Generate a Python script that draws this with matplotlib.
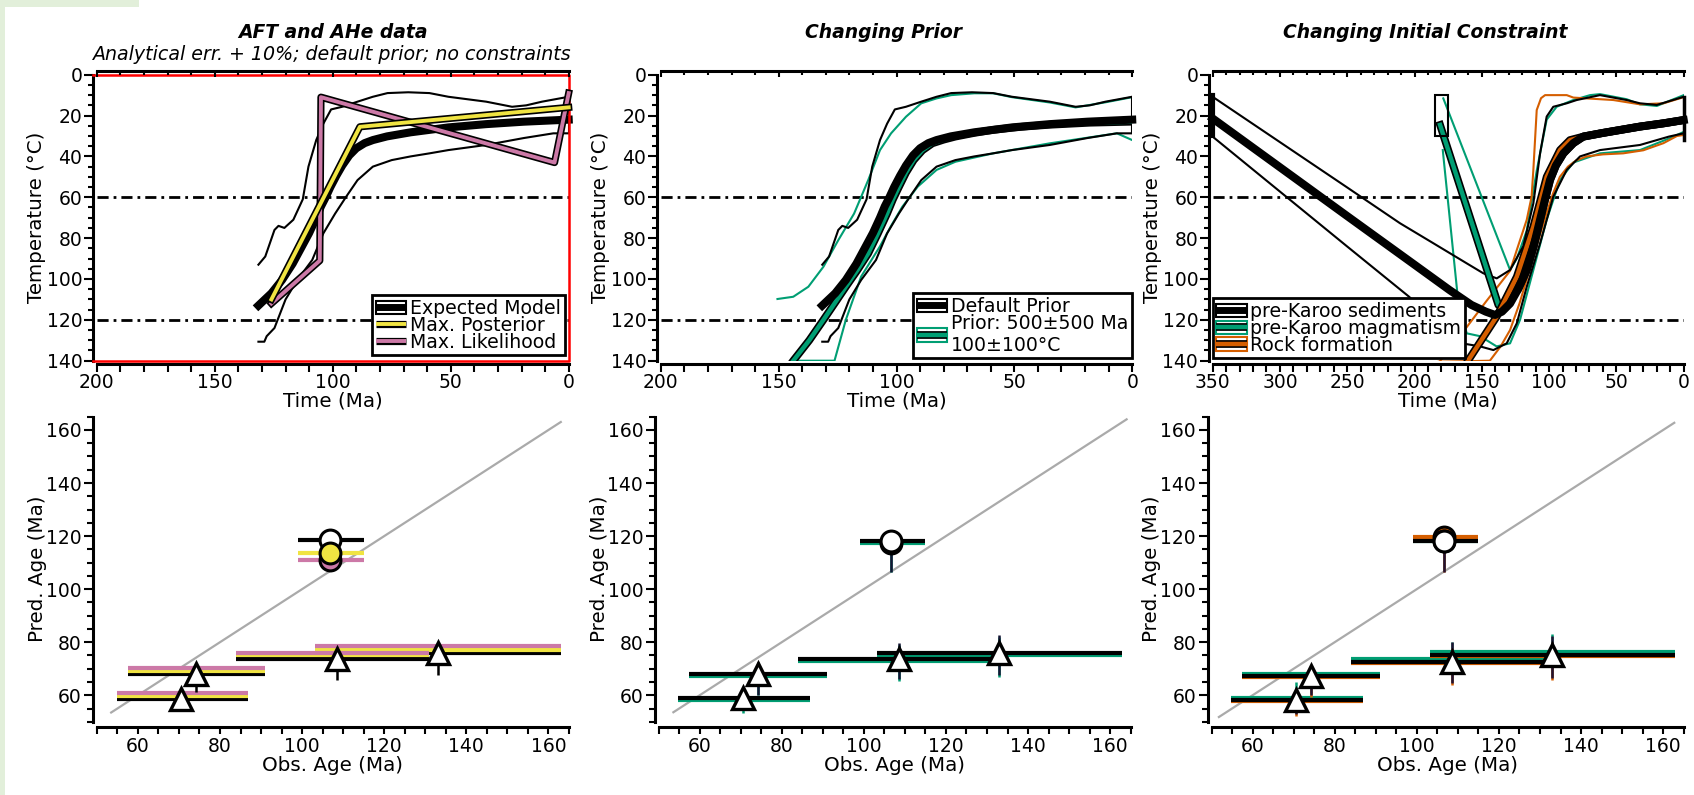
import matplotlib
matplotlib.use('Agg')
import matplotlib.pyplot as plt
import matplotlib.patheffects as pe
from matplotlib.patches import Rectangle
from matplotlib.lines import Line2D
from matplotlib.legend_handler import HandlerTuple
from matplotlib.ticker import MultipleLocator

plt.rcParams['font.family'] = ['DejaVu Sans']

YEL = '#f0e442'; PINK = '#cc79a7'; GRN = '#009e73'; ORG = '#d55e00'
GRAY = '#aaaaaa'; BG = '#e2efda'

# ---------------- time-temperature data (Time Ma, Temp degC) ----------------
# Expected model (default prior), panels 1 and 2
em_t = [131.5, 126, 121.5, 117, 113.5, 110, 107, 105, 103, 101, 98.5, 96, 93, 90, 86.5, 83, 77, 67, 51, 35, 19, 0]
em_T = [113, 107, 100.5, 92.5, 85, 77.5, 70, 64.5, 60, 55, 49.5, 44.5, 39.5, 36, 33.5, 32, 30.2, 28.2, 25.8, 24.2, 23, 22]
ub_t = [131.5, 128.6, 124.7, 123, 120.5, 116.7, 112.7, 110.3, 107, 104, 100.7, 96, 89.5, 83, 76.8, 68, 59, 51, 35, 24, 18, 11.3, 0]
ub_T = [93, 89, 76, 74, 75, 71, 61, 45, 32, 24, 17, 15.7, 13.2, 10.8, 9, 8.6, 9, 10.8, 13.2, 15.7, 15, 13.2, 10.8]
lb_t = [131.5, 129, 128, 124.7, 120, 115, 108.7, 104, 99, 94.3, 89.5, 83, 75, 67, 59, 51, 35, 19, 6.5, 0]
lb_T = [130.7, 130.7, 128, 124, 110, 100.5, 90.7, 77.7, 68, 59.7, 51.6, 45, 41.8, 40, 38.5, 36.9, 34.4, 31, 28.7, 28.7]
# Max. posterior / max. likelihood (panel 1)
mp_t = [126, 88.5, 0]
mp_T = [110, 25.5, 16]
ml_t = [126, 105.5, 105, 6, 0]
ml_T = [112, 91, 11, 43, 9]
# Prior 500+-500 Ma, 100+-100 C (panel 2)
g_t = [147, 143.8, 137, 131, 126, 121.5, 116.5, 112, 108, 104, 101.5, 99, 96, 92.7, 89, 84.8, 80, 75, 67, 59, 47, 35, 18, 0]
g_T = [145, 140, 130, 120, 111.5, 103.8, 95.5, 87.5, 78, 68, 61, 55, 48, 41.8, 37, 33.6, 31.8, 30.3, 28.5, 27, 25.5, 24.5, 23.5, 23]
gub_t = [150.5, 143.8, 137.4, 131, 124.7, 118, 112, 107, 102.3, 96, 89.5, 83, 76.8, 67, 59, 51, 35, 24, 11.3, 0]
gub_T = [109.8, 108.7, 103.8, 94, 81, 68, 51.6, 36.9, 28.7, 20.6, 14, 11.6, 10, 9.1, 9.1, 11, 13.6, 16, 13.5, 11]
glb_t = [143.8, 126.3, 121.5, 115, 107, 102.3, 97.5, 91, 83, 75, 59, 35, 6.5, 0]
glb_T = [140, 140, 120, 98.8, 84, 74, 64.6, 54.8, 46.6, 42.6, 38.5, 33.6, 28.7, 32]
# Panel 3: pre-Karoo sediments
s_t = [350, 300, 250, 200, 174, 157.7, 147, 140.2, 135, 129, 123, 116.6, 111.5, 106.7, 103, 99.3, 95, 89.4, 82, 74.6, 60, 32.5, 15, 0]
s_T = [21.4, 45.3, 69.2, 93.0, 105.4, 112.7, 116, 117.6, 116, 112, 105, 95.6, 84, 71, 61, 51.5, 44.5, 38.5, 33.5, 30.3, 28.5, 25.4, 23.8, 22.2]
su_t = [350, 300, 250, 210.8, 186, 161.3, 148.9, 138.9, 129, 119.2, 111.7, 106.7, 101.8, 96.9, 86.9, 79.5, 62.2, 42.4, 32.5, 20, 0]
su_T = [10.8, 33, 55.2, 72.7, 82.5, 92.3, 97.2, 99.7, 95.6, 84, 63, 38.5, 20.5, 15.7, 14, 12.4, 10, 12.4, 14, 14.8, 10.8]
sl_t = [350, 300, 250, 204, 180, 164.7, 151.3, 141.4, 131.5, 124, 116.6, 106.7, 96.9, 86.9, 77, 62.2, 32.5, 11, 0]
sl_T = [30.3, 57.2, 84.1, 108.7, 124, 131.5, 133, 134.8, 131.5, 121.7, 103.8, 82.5, 59.7, 46.6, 40, 36.9, 34.4, 30.3, 28.7]
# pre-Karoo magmatism
m_t = [181, 137.7, 134.5, 130, 125, 123, 116.6, 111.5, 106.7, 103, 99.3, 95, 89.4, 82, 74.6, 60, 32.5, 15, 0]
m_T = [24.6, 112.7, 114, 111.5, 106.5, 105, 95.6, 84, 71, 61, 51.5, 44.5, 38.5, 33.5, 30.3, 28.5, 25.4, 23.8, 22.2]
mu_t = [178.6, 129, 124, 116.6, 109.2, 101.8, 94.4, 82, 69.6, 62.2, 42.4, 32.5, 20, 0]
mu_T = [11.6, 95.6, 90, 76.3, 47, 22, 15.7, 12.4, 10, 9.5, 12, 14.5, 15.3, 10]
mlo_t = [179, 167.4, 161.2, 151.3, 139, 129, 121.6, 111.7, 101.8, 91.9, 82, 62.2, 32.5, 10, 0]
mlo_T = [36.9, 111.8, 126.6, 128, 133, 131.5, 120, 95.6, 71, 51.5, 43, 38.5, 36.9, 31, 28]
# Rock formation
r_t = [163, 161.2, 138.9, 124, 111.7, 101.8, 91.9, 84.5, 74.6, 60, 32.5, 15, 0]
r_T = [143, 141, 118.4, 98.9, 74.4, 50, 36.9, 32, 30.3, 28.5, 25.4, 23.8, 22.2]
ru_t = [182, 164.7, 146.8, 129, 124, 116.6, 113, 111.7, 109.2, 106, 103, 86.9, 82, 72, 52.3, 32.5, 15, 0]
ru_T = [141, 126.6, 111, 96, 85.8, 71, 59.7, 46.6, 17.3, 11.5, 10, 10, 11.2, 11.6, 12.4, 14.5, 14, 11]
rl_t = [182, 144, 136, 129, 122, 117, 112, 107, 102, 97, 92, 86, 80, 72, 60, 45, 30, 15, 5, 0]
rl_T = [140.5, 140, 133, 125, 112, 101, 90, 79, 68, 58, 50, 45, 42, 40, 39, 38.5, 37, 33.5, 30, 29.5]
# initial constraint box (panel 3)
box_t = [185, 175]
box_T = [10, 30]

# ---------------- observed vs predicted ages ----------------
obs_age = [70.5, 74.2, 108.5, 133.0, 106.7]
obs_lo = [54.8, 57.5, 84.0, 103.2, 99.0]
obs_hi = [86.8, 91.0, 131.0, 163.0, 115.0]
is_ahe = [False, False, False, False, True]
# panel 1
p1_em = [58.7, 68.0, 73.8, 75.8, 118.6]
p1_mp = [59.7, 69.0, 75.0, 77.0, 113.5]
p1_ml = [60.8, 70.4, 76.0, 78.6, 110.8]
p1_lo = [55.0, 61.4, 65.8, 67.7, 108.0]
p1_hi = [58.7, 68.0, 73.8, 75.8, 118.6]
# panel 2
p2_def = [59.1, 67.9, 73.6, 75.8, 118.3]
p2_pri = [58.4, 67.2, 73.0, 75.2, 117.3]
p2_def_lo = [54.5, 60.0, 66.0, 67.5, 106.6]
p2_def_hi = [60.0, 72.7, 79.8, 82.7, 118.3]
p2_pri_lo = [53.5, 60.0, 65.2, 67.0, 106.6]
p2_pri_hi = [59.0, 72.0, 79.0, 82.0, 117.3]
# panel 3
p3_sed = [58.2, 67.3, 72.7, 75.2, 118.3]
p3_mag = [59.1, 68.0, 73.8, 76.2, 118.0]
p3_roc = [57.9, 67.0, 72.3, 74.8, 119.8]
p3_sed_lo = [53.0, 60.0, 64.5, 66.5, 106.6]
p3_sed_hi = [60.0, 68.0, 80.0, 82.5, 118.3]
p3_mag_lo = [55.0, 61.0, 65.0, 67.0, 107.0]
p3_mag_hi = [65.0, 70.0, 80.2, 83.0, 118.0]
p3_roc_lo = [52.0, 59.5, 63.9, 65.8, 106.6]
p3_roc_hi = [58.0, 67.0, 78.0, 80.0, 119.8]
diag_lo = [53.5, 53.6, 51.8]
diag_hi = [163.0, 164.0, 162.7]

# ---------------- figure ----------------
W, H = 1694, 795
TICK_FS = 13.5
LAB_FS = 14.3
LEG_FS = 13.6
fig = plt.figure(figsize=(W / 100, H / 100), dpi=100)
fig.add_artist(Rectangle((0, 0), 5 / W, 1, transform=fig.transFigure, facecolor=BG, edgecolor='none', zorder=-1))
fig.add_artist(Rectangle((0, 1 - 7 / H), 139 / W, 7 / H, transform=fig.transFigure, facecolor=BG, edgecolor='none', zorder=-1))


def px_axes(l, t, w, h):
    return fig.add_axes([l / W, 1 - (t + h) / H, w / W, h / H])


top_cols = [(96.8, 471.9), (660.8, 471.4), (1212.6, 471.1)]
bot_cols = [(96.8, 472.2), (658.6, 472.1), (1211.5, 472.2)]
TOP_T, TOP_H = 74.7, 286.0
BOT_T, BOT_H = 416.7, 305.1
SP = 2.2


def edged(lw, extra=2.4):
    return [pe.Stroke(linewidth=lw + extra, foreground='k'), pe.Normal()]


def style_tT(ax, tmax):
    ax.set_xlim(tmax, 0)
    ax.set_ylim(140, 0)
    ax.spines['right'].set_visible(False)
    ax.spines['top'].set_visible(False)
    ax.spines['left'].set_position(('outward', 2.6))
    ax.spines['bottom'].set_position(('outward', 2.4))
    for s in ['left', 'bottom']:
        ax.spines[s].set_linewidth(SP)
    ax.xaxis.set_major_locator(MultipleLocator(50))
    ax.xaxis.set_minor_locator(MultipleLocator(10))
    ax.yaxis.set_major_locator(MultipleLocator(20))
    ax.yaxis.set_minor_locator(MultipleLocator(5))
    ax.tick_params(axis='x', which='both', length=5.5, width=1.5, direction='out', pad=1, labelsize=TICK_FS)
    ax.tick_params(axis='y', which='major', length=6.3, width=1.5, direction='out', pad=1.5, labelsize=TICK_FS)
    ax.tick_params(axis='y', which='minor', length=3.3, width=1.5, direction='out')
    ax.set_xlabel('Time (Ma)', fontsize=LAB_FS)
    ax.set_ylabel('Temperature (°C)', fontsize=LAB_FS)
    ax.xaxis.set_label_coords(0.5, -0.108)
    ax.yaxis.set_label_coords(-0.108, 0.5)
    tw = ax.twiny()
    tw.set_xlim(tmax, 0)
    for s in ['left', 'right', 'bottom']:
        tw.spines[s].set_visible(False)
    tw.spines['top'].set_position(('outward', 3))
    tw.spines['top'].set_linewidth(SP)
    tw.xaxis.set_major_locator(MultipleLocator(50))
    tw.xaxis.set_minor_locator(MultipleLocator(10))
    tw.tick_params(axis='x', which='major', direction='in', length=4.5, width=1.5, labeltop=False)
    tw.tick_params(axis='x', which='minor', direction='in', length=3, width=1.5)
    for y in [60, 120]:
        ax.axhline(y, color='k', lw=2, ls=(0, (4, 1.8, 1, 1.8)), zorder=1)


def style_pa(ax):
    ax.set_xlim(50, 165)
    ax.set_ylim(50, 165)
    ax.spines['right'].set_visible(False)
    ax.spines['top'].set_visible(False)
    ax.spines['left'].set_position(('outward', 2.8))
    ax.spines['bottom'].set_position(('outward', 3.6))
    for s in ['left', 'bottom']:
        ax.spines[s].set_linewidth(SP)
    for a in [ax.xaxis, ax.yaxis]:
        a.set_major_locator(MultipleLocator(20))
        a.set_minor_locator(MultipleLocator(5))
    ax.tick_params(axis='x', which='both', length=5, width=1.5, direction='out', pad=2.5, labelsize=TICK_FS)
    ax.tick_params(axis='y', which='major', length=6.8, width=1.5, direction='out', pad=1.5, labelsize=TICK_FS)
    ax.tick_params(axis='y', which='minor', length=4, width=1.5, direction='out')
    ax.set_xlabel('Obs. Age (Ma)', fontsize=LAB_FS)
    ax.set_ylabel('Pred. Age (Ma)', fontsize=LAB_FS)
    ax.xaxis.set_label_coords(0.5, -0.112)
    ax.yaxis.set_label_coords(-0.106, 0.5)


def legend(ax, handles, labels, loc, anchor):
    lg = ax.legend(handles, labels, loc=loc, bbox_to_anchor=anchor, borderaxespad=0,
                   fontsize=LEG_FS, frameon=True, fancybox=False, framealpha=1,
                   edgecolor='k', borderpad=0.2, labelspacing=-0.12, handlelength=1.6,
                   handleheight=0.7, handletextpad=0.2,
                   handler_map={tuple: HandlerTuple(ndivide=1)})
    lg.get_frame().set_linewidth(2)
    lg.set_zorder(20)
    return lg


def band_handle(color, thick_lw, edge):
    rect = Rectangle((0, 0), 1, 1, facecolor='white', edgecolor=color, lw=1.5)
    if edge:
        ln = Line2D([], [], color=color, lw=thick_lw, solid_capstyle='butt',
                    path_effects=edged(thick_lw, 2.4))
    else:
        ln = Line2D([], [], color=color, lw=thick_lw, solid_capstyle='butt')
    return (rect, ln)


def line_handle(color):
    return Line2D([], [], color=color, lw=2.8, solid_capstyle='butt', path_effects=edged(2.8))


# ---------------- top row ----------------
axes_top = [px_axes(l, TOP_T, w, TOP_H) for (l, w) in top_cols]

# Panel 1
ax = axes_top[0]
style_tT(ax, 200)
ax.plot(ub_t, ub_T, color='k', lw=1.5, zorder=3)
ax.plot(lb_t, lb_T, color='k', lw=1.5, zorder=3)
ax.plot([0, 0], [ub_T[-1], lb_T[-1]], color='k', lw=1.5, zorder=3)
ax.plot(em_t, em_T, color='k', lw=5.8, zorder=4, clip_on=False)
ax.plot(ml_t, ml_T, color=PINK, lw=2.8, path_effects=edged(2.8), zorder=5, clip_on=False)
ax.plot(mp_t, mp_T, color=YEL, lw=2.8, path_effects=edged(2.8), zorder=6, clip_on=False)
ax.plot([201.5, 0, 0, 201.5], [0, 0, 140, 140], color='red', lw=1.8, clip_on=False, zorder=4.5)
legend(ax,
       [band_handle('k', 5, False), line_handle(YEL), line_handle(PINK)],
       ['Expected Model', 'Max. Posterior', 'Max. Likelihood'],
       'lower right', (1 - 4.2 / 471.9, 5.4 / 286))

# Panel 2
ax = axes_top[1]
style_tT(ax, 200)
ax.plot(gub_t, gub_T, color=GRN, lw=1.5, zorder=2)
ax.plot(glb_t, glb_T, color=GRN, lw=1.5, zorder=2)
ax.plot(ub_t, ub_T, color='k', lw=1.5, zorder=3)
ax.plot(lb_t, lb_T, color='k', lw=1.5, zorder=3)
ax.plot([0, 0], [ub_T[-1], lb_T[-1]], color='k', lw=1.5, zorder=3)
ax.plot(g_t, g_T, color=GRN, lw=3.2, path_effects=edged(3.2), zorder=4)
ax.plot(em_t, em_T, color='k', lw=5.8, zorder=5, clip_on=False)
legend(ax,
       [band_handle('k', 5, False), band_handle(GRN, 3.2, True)],
       ['Default Prior', 'Prior: 500±500 Ma\n100±100°C'],
       'lower right', (1.0, 2.4 / 286))

# Panel 3
ax = axes_top[2]
style_tT(ax, 350)
ax.plot(mu_t, mu_T, color=GRN, lw=1.5, zorder=2)
ax.plot(mlo_t, mlo_T, color=GRN, lw=1.5, zorder=2)
ax.plot(ru_t, ru_T, color=ORG, lw=1.5, zorder=2)
ax.plot(rl_t, rl_T, color=ORG, lw=1.5, zorder=2)
ax.plot(su_t, su_T, color='k', lw=1.5, zorder=3)
ax.plot(sl_t, sl_T, color='k', lw=1.5, zorder=3)
ax.plot([0, 0], [su_T[-1], 32], color='k', lw=2.5, zorder=3, clip_on=False)
ax.plot(m_t, m_T, color=GRN, lw=3.2, path_effects=edged(3.2), zorder=4)
ax.plot(r_t, r_T, color=ORG, lw=3.2, path_effects=edged(3.2), zorder=4)
ax.plot(s_t, s_T, color='k', lw=5.8, zorder=5, clip_on=False)
ax.add_patch(Rectangle((box_t[1], box_T[0]), box_t[0] - box_t[1], box_T[1] - box_T[0],
                       facecolor='none', edgecolor='k', lw=1.5, zorder=6))
ax.plot([350, 350], [10, 30], color='k', lw=3, zorder=6, clip_on=False)
legend(ax,
       [band_handle('k', 5, False), band_handle(GRN, 3.2, True), band_handle(ORG, 3.2, True)],
       ['pre-Karoo sediments', 'pre-Karoo magmatism', 'Rock formation'],
       'lower left', (0.0, 2.4 / 286))

# titles
fig.text(332.6 / W, 1 - 32 / H, 'AFT and AHe data', ha='center', va='center',
         fontsize=13.5, fontweight='bold', fontstyle='italic')
fig.text(331.6 / W, 1 - 55 / H, 'Analytical err. + 10%; default prior; no constraints',
         ha='center', va='center', fontsize=13.7, fontstyle='italic')
fig.text(883.6 / W, 1 - 32 / H, 'Changing Prior', ha='center', va='center',
         fontsize=13.5, fontweight='bold', fontstyle='italic')
fig.text(1425.5 / W, 1 - 32 / H, 'Changing Initial Constraint', ha='center', va='center',
         fontsize=13.5, fontweight='bold', fontstyle='italic')

# ---------------- bottom row ----------------
axes_bot = [px_axes(l, BOT_T, w, BOT_H) for (l, w) in bot_cols]


def pa_panel(ax, k, bars, vranges, circle_models, main):
    style_pa(ax)
    ax.plot([diag_lo[k], diag_hi[k]], [diag_lo[k], diag_hi[k]], color=GRAY, lw=1.6, zorder=1)
    for (pred, color) in bars:
        ax.hlines(pred, obs_lo, obs_hi, color=color, lw=3, zorder=2)
    for (lo, hi, color) in vranges:
        ax.vlines(obs_age, lo, hi, color=color, lw=1.8, zorder=3)
    tri_x = [x for x, a in zip(obs_age, is_ahe) if not a]
    tri_y = [y for y, a in zip(main, is_ahe) if not a]
    ax.plot(tri_x, tri_y, ls='none', marker='^', ms=15.5, mfc='white', mec='k', mew=2.4, zorder=6)
    ahe_x = [x for x, a in zip(obs_age, is_ahe) if a]
    for z, (pred, fc) in enumerate(circle_models):
        ahe_y = [y for y, a in zip(pred, is_ahe) if a]
        ax.plot(ahe_x, ahe_y, ls='none', marker='o', ms=15, mfc=fc, mec='k', mew=2.2, zorder=6 + z)


pa_panel(axes_bot[0], 0,
         [(p1_em, 'k'), (p1_mp, YEL), (p1_ml, PINK)],
         [(p1_lo, p1_hi, 'k')],
         [(p1_em, 'white'), (p1_ml, PINK), (p1_mp, YEL)], p1_em)

pa_panel(axes_bot[1], 1,
         [(p2_pri, GRN), (p2_def, 'k')],
         [(p2_pri_lo, p2_pri_hi, GRN), (p2_def_lo, p2_def_hi, '#141433')],
         [(p2_pri, GRN), (p2_def, 'white')], p2_def)

pa_panel(axes_bot[2], 2,
         [(p3_mag, GRN), (p3_roc, ORG), (p3_sed, 'k')],
         [(p3_mag_lo, p3_mag_hi, GRN), (p3_roc_lo, p3_roc_hi, ORG), (p3_sed_lo, p3_sed_hi, '#221133')],
         [(p3_roc, ORG), (p3_mag, GRN), (p3_sed, 'white')], p3_sed)

fig.savefig('out.png', dpi=100)
